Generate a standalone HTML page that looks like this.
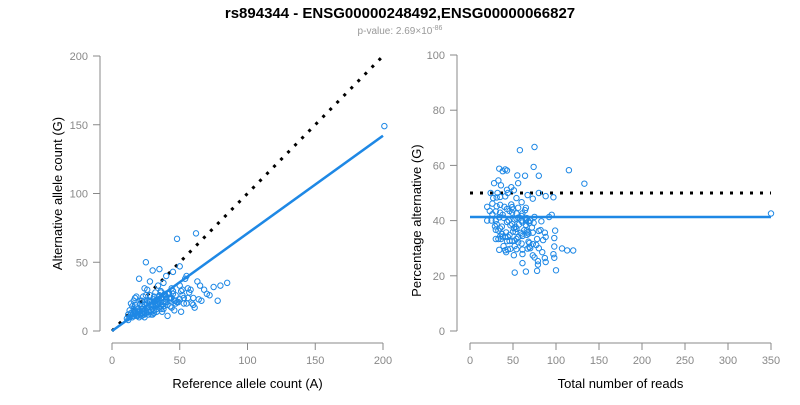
<!DOCTYPE html>
<html><head><meta charset="utf-8"><style>
body{margin:0;background:#fff;font-family:"Liberation Sans",sans-serif}
svg text{font-family:"Liberation Sans",sans-serif}
</style></head><body>
<svg id="c" width="800" height="400" xmlns="http://www.w3.org/2000/svg">
<text x="400" y="18" text-anchor="middle" font-size="15" font-weight="bold">rs894344 - ENSG00000248492,ENSG00000066827</text>
<text x="400" y="34" text-anchor="middle" font-size="10" fill="#999">p-value: 2.69×10<tspan dy="-4" font-size="7">-86</tspan></text>
<g id="L"></g>
<g id="R"></g>
</svg>
<script>
const refCounts=[201,62,48,20,25,30,35,40,45,50,55,12,14,16,18,22,24,26,28,32,34,36,38,42,44,46,52,54,58,60,65,70,75,80,85,15,17,19,21,23,27,29,31,33,37,39,41,43,47,49,51,53,57,59,63,68,72,78,13,16,20,24,28,32,36,40,44,48,52,56,60,64,11,15,19,23,27,31,35,39,43,47,51,55,30,33,25,18,42,38,22,26,29,34,45,50,56,21,17,14,27,31,36,41,46,53,61,66,12,24,
 14,16,18,20,22,24,26,28,30,32,34,36,38,40,19,21,23,25,27,29,31,33,35,37,15,17,20,23,26,29,32,35,38,41,44,13,18,22,26,30,34,37,40,43,47,28,31,24,33,36,39,42,27,22,20,17,35,45,50];
const altCounts=[149,71,67,38,50,44,45,40,43,47,40,12,20,22,25,18,31,30,36,28,33,29,35,28,31,22,30,38,30,24,33,27,32,33,35,10,14,12,20,16,22,18,25,20,24,27,19,23,26,21,29,24,28,20,36,30,26,22,15,16,14,12,22,19,28,23,17,21,26,24,19,23,9,18,16,25,14,21,17,26,18,22,14,20,12,14,26,11,24,18,13,17,12,20,27,23,31,22,24,12,15,13,16,11,15,20,17,22,8,10,
 13,15,17,14,16,19,17,21,19,22,20,24,21,25,11,12,14,13,18,15,23,16,26,19,11,13,15,12,20,14,18,22,16,27,24,10,12,11,22,16,19,14,21,24,20,26,15,13,23,18,21,27,12,22,10,19,25,29,33];
const rightTicksY=[0,20,40,60,80,100], leftTicksY=[0,50,100,150,200], leftTicksX=[0,50,100,150,200], rightTicksX=[0,50,100,150,200,250,300,350];
const fitSlope=0.71, fitPct=41.3;
const NS="http://www.w3.org/2000/svg";
function mk(p,t,a){const e=document.createElementNS(NS,t);for(const k in a)e.setAttribute(k,a[k]);p.appendChild(e);return e;}
const lx=v=>112+v*1.355, ly=v=>331-v*1.375;
const rx=v=>470+v*0.86, ry=v=>331-v*2.76;
const L=document.getElementById('L'),R=document.getElementById('R');
function axes(g,xs,ys,xf,yf,axX,axY,xlab,ylab,lx0){
 let a=mk(g,'line',{x1:axX,x2:axX,y1:yf(ys[ys.length-1]),y2:yf(ys[0]),stroke:'#888'});
 
 ys.forEach(v=>{mk(g,'line',{x1:axX-7,x2:axX,y1:yf(v),y2:yf(v),stroke:'#888'});
  let t=mk(g,'text',{x:axX-12,y:yf(v)+4,'text-anchor':'end','font-size':11,fill:'#888'});t.textContent=v;
  });
 a=mk(g,'line',{x1:xf(xs[0]),x2:xf(xs[xs.length-1]),y1:axY,y2:axY,stroke:'#888'});
 
 xs.forEach(v=>{mk(g,'line',{x1:xf(v),x2:xf(v),y1:axY,y2:axY+7,stroke:'#888'});
  let t=mk(g,'text',{x:xf(v),y:axY+21,'text-anchor':'middle','font-size':11,fill:'#888'});t.textContent=v;
  });
 let t=mk(g,'text',{x:(xf(xs[0])+xf(xs[xs.length-1]))/2,y:388,'text-anchor':'middle','font-size':13});t.textContent=xlab;
 
 t=mk(g,'text',{x:lx0,y:yf(ys[2]),'text-anchor':'middle','font-size':13,transform:`rotate(-90 ${lx0} ${yf(ys[2])})`});t.textContent=ylab;
 
}
axes(L,leftTicksX,leftTicksY,lx,ly,100,343,'Reference allele count (A)','Alternative allele count (G)',62);
axes(R,rightTicksX,rightTicksY,rx,ry,457,343,'Total number of reads','Percentage alternative (G)',421);
let e=mk(L,'line',{x1:lx(0),y1:ly(0),x2:lx(200),y2:ly(200),stroke:'#000','stroke-width':3,'stroke-dasharray':'3 7'});

e=mk(R,'line',{x1:rx(0),y1:ry(50),x2:rx(350),y2:ry(50),stroke:'#000','stroke-width':3,'stroke-dasharray':'3 7'});

refCounts.forEach((r,i)=>{const a=altCounts[i],t=r+a;
 let c=mk(L,'circle',{cx:lx(r),cy:ly(a),r:2.7,fill:'none',stroke:'#1e88e5'});
 
 c=mk(R,'circle',{cx:rx(t),cy:ry(a/t*100),r:2.7,fill:'none',stroke:'#1e88e5'});
 });
e=mk(L,'line',{x1:lx(0),y1:ly(0),x2:lx(200),y2:ly(200*fitSlope),stroke:'#1e88e5','stroke-width':2.5});

e=mk(R,'line',{x1:rx(0),y1:ry(fitPct),x2:rx(350),y2:ry(fitPct),stroke:'#1e88e5','stroke-width':2.5});

</script>
</body></html>
